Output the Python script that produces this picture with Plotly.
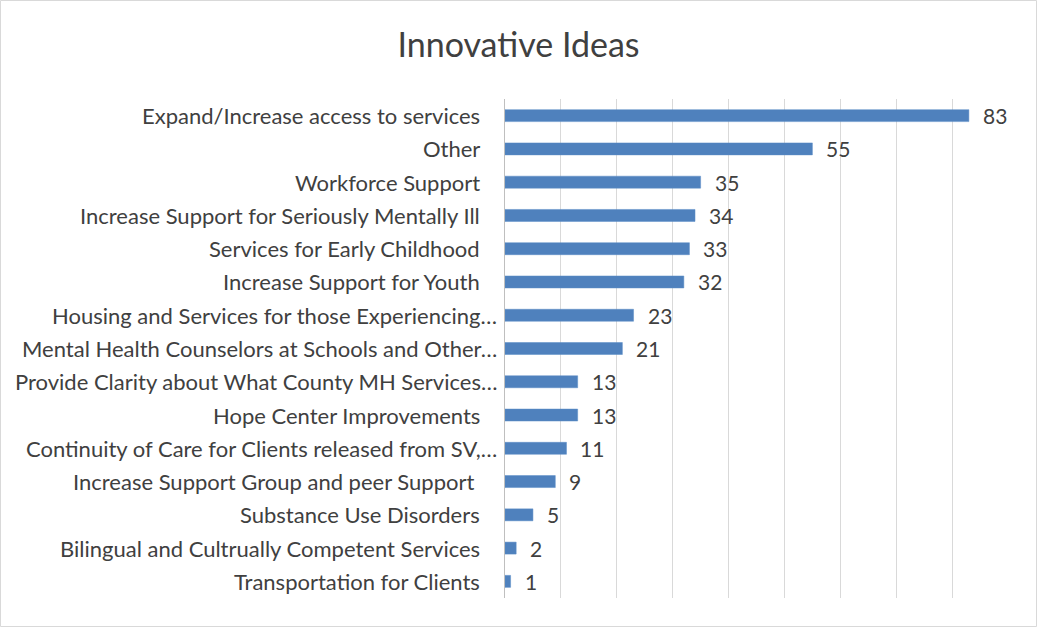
import plotly.graph_objects as go

# Survey themes, listed top to bottom, with response counts
categories = [
    "Expand/Increase access to services",
    "Other",
    "Workforce Support",
    "Increase Support for Seriously Mentally Ill",
    "Services for Early Childhood",
    "Increase Support for Youth",
    "Housing and Services for those Experiencing…",
    "Mental Health Counselors at Schools and Other…",
    "Provide Clarity about What County MH Services…",
    "Hope Center Improvements",
    "Continuity of Care for Clients released from SV,…",
    "Increase Support Group and peer Support ",
    "Substance Use Disorders",
    "Bilingual and Cultrually Competent Services",
    "Transportation for Clients",
]
counts = [83, 55, 35, 34, 33, 32, 23, 21, 13, 13, 11, 9, 5, 2, 1]

W, H = 1037, 627
ML, MR, MT, MB = 505, 29, 99, 29
FONT = "Lato, Carlito, Calibri, sans-serif"
TEXT = "#404040"

fig = go.Figure(
    go.Bar(
        x=counts,
        y=categories,
        orientation="h",
        marker=dict(color="#4f81bd", line=dict(color="#5b8cc6", width=0.5)),
        width=0.36,
        hoverinfo="x+y",
    )
)

for c, v in zip(categories, counts):
    # value label just past the end of each bar
    fig.add_annotation(
        x=v, y=c, text=str(v), showarrow=False,
        xanchor="left", yanchor="middle", xshift=12,
        font=dict(family=FONT, size=21, color=TEXT),
    )
    # category label to the left of the axis; truncated names sit closer
    if c.endswith("…"):
        shift = -6
    elif c.endswith(" "):
        shift = -29
    else:
        shift = -23
    fig.add_annotation(
        x=0, y=c, text=c.strip(), showarrow=False,
        xanchor="right", yanchor="middle", xshift=shift,
        font=dict(family=FONT, size=22, color=TEXT),
    )

pw = W - ML - MR
ph = H - MT - MB
# light outer frame around the whole chart
fig.add_shape(
    type="rect", xref="paper", yref="paper",
    x0=(-ML + 0.5) / pw, x1=1 + (MR - 0.5) / pw,
    y0=(-MB + 0.5) / ph, y1=1 + (MT - 0.5) / ph,
    line=dict(color="#d9d9d9", width=1), fillcolor="rgba(0,0,0,0)", layer="below",
)

fig.update_layout(
    width=W, height=H,
    margin=dict(l=ML, r=MR, t=MT, b=MB, pad=0),
    paper_bgcolor="white", plot_bgcolor="white",
    showlegend=False,
    title=dict(
        text="Innovative Ideas", x=0.5, xanchor="center",
        y=1 - 45 / H, yanchor="middle",
        font=dict(family=FONT, size=34, color=TEXT),
    ),
    xaxis=dict(
        range=[0, 90], dtick=10, tick0=0,
        showgrid=True, gridcolor="#d9d9d9", gridwidth=1,
        showticklabels=False, zeroline=False, showline=False, ticks="",
        fixedrange=True,
    ),
    yaxis=dict(
        autorange="reversed", type="category",
        showline=True, linecolor="#bfbfbf", linewidth=1,
        ticks="", showticklabels=False,
        showgrid=False, fixedrange=True,
    ),
    bargap=0.64,
)

fig.write_html("out.html")
